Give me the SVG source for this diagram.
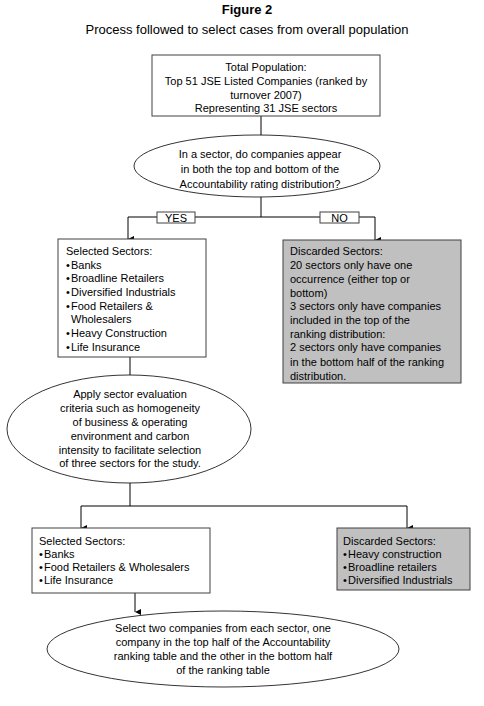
<svg xmlns="http://www.w3.org/2000/svg" width="484" height="706" viewBox="0 0 484 706">
<defs>
<marker id="ah" markerWidth="6" markerHeight="6" refX="3" refY="6" orient="auto" markerUnits="userSpaceOnUse" viewBox="0 0 6 6">
<path d="M0,0 L6,0 L3,6 z" fill="#000"/>
</marker>
</defs>
<style>
text{font-family:"Liberation Sans",Arial,sans-serif;font-size:11px;fill:#000}
.c{text-anchor:middle}
.box{fill:#fff;stroke:#404040;stroke-width:1}
.gbox{fill:#c0c0c0;stroke:#404040;stroke-width:1}
.ell{fill:#fff;stroke:#000;stroke-width:0.8}
.ln{fill:none;stroke:#000;stroke-width:1}
.arr{fill:none;stroke:#000;stroke-width:1;marker-end:url(#ah)}
</style>
<rect width="484" height="706" fill="#fff"/>
<g id="title">
<text x="247" y="14" class="c" style="font-size:13px;font-weight:bold">Figure 2</text>
<text x="247" y="34" class="c" style="font-size:13px">Process followed to select cases from overall population</text>
</g>
<g id="connectors">
<path class="ln" d="M261,116 V135"/>
<path class="ln" d="M261,197 V217 M128,217 H375"/>
<path class="arr" d="M128,217 V239"/>
<path class="arr" d="M375,217 V240"/>
<path class="ln" d="M130,357 V376"/>
<path class="ln" d="M130,483 V506 M81,506 H407"/>
<path class="arr" d="M81,506 V528"/>
<path class="arr" d="M407,506 V528"/>
<path class="arr" d="M135,593 V612"/>
</g>
<g id="yes">
<rect x="157" y="212" width="38" height="11" class="box"/>
<text x="176" y="222" class="c">YES</text>
</g>
<g id="no">
<rect x="320" y="212" width="39" height="11" class="box"/>
<text x="339.500" y="222" class="c">NO</text>
</g>
<g id="total">
<rect x="152" y="55" width="228" height="61" class="box"/>
<text x="266" y="71" class="c">Total Population:</text>
<text x="266" y="85" class="c">Top 51 JSE Listed Companies (ranked by</text>
<text x="266" y="99" class="c">turnover 2007)</text>
<text x="266" y="112" class="c">Representing 31 JSE sectors</text>
</g>
<g id="question">
<ellipse cx="257" cy="166" rx="123" ry="31" class="ell"/>
<text x="260" y="158" class="c">In a sector, do companies appear</text>
<text x="260" y="173" class="c">in both the top and bottom of the</text>
<text x="260" y="188" class="c">Accountability rating distribution?</text>
</g>
<g id="selected1">
<rect x="58" y="239" width="148" height="118" class="box"/>
<text x="66" y="255">Selected Sectors:</text>
<text x="66" y="269">•<tspan x="71">Banks</tspan></text>
<text x="66" y="282">•<tspan x="71">Broadline Retailers</tspan></text>
<text x="66" y="296">•<tspan x="71">Diversified Industrials</tspan></text>
<text x="66" y="310">•<tspan x="71">Food Retailers &amp;</tspan></text>
<text x="71" y="323">Wholesalers</text>
<text x="66" y="337">•<tspan x="71">Heavy Construction</tspan></text>
<text x="66" y="351">•<tspan x="71">Life Insurance</tspan></text>
</g>
<g id="discarded1">
<rect x="283" y="240" width="178" height="143" class="gbox"/>
<text x="290" y="255">Discarded Sectors:</text>
<text x="290" y="269">20 sectors only have one</text>
<text x="290" y="283">occurrence (either top or</text>
<text x="290" y="297">bottom)</text>
<text x="290" y="310">3 sectors only have companies</text>
<text x="290" y="324">included in the top of the</text>
<text x="290" y="338">ranking distribution:</text>
<text x="290" y="351">2 sectors only have companies</text>
<text x="290" y="366">in the bottom half of the ranking</text>
<text x="290" y="380">distribution.</text>
</g>
<g id="criteria">
<ellipse cx="129" cy="429" rx="122" ry="54" class="ell"/>
<text x="130" y="398" class="c">Apply sector evaluation</text>
<text x="130" y="412" class="c">criteria such as homogeneity</text>
<text x="130" y="426" class="c">of business &amp; operating</text>
<text x="130" y="440" class="c">environment and carbon</text>
<text x="130" y="454" class="c">intensity to facilitate selection</text>
<text x="130" y="467" class="c">of three sectors for the study.</text>
</g>
<g id="selected2">
<rect x="32" y="528" width="178" height="65" class="box"/>
<text x="39" y="545">Selected Sectors:</text>
<text x="39" y="558">•<tspan x="44">Banks</tspan></text>
<text x="39" y="571">•<tspan x="44">Food Retailers &amp; Wholesalers</tspan></text>
<text x="39" y="584">•<tspan x="44">Life Insurance</tspan></text>
</g>
<g id="discarded2">
<rect x="337" y="528" width="133" height="62" class="gbox"/>
<text x="343" y="545">Discarded Sectors:</text>
<text x="343" y="558">•<tspan x="348">Heavy construction</tspan></text>
<text x="343" y="571">•<tspan x="348">Broadline retailers</tspan></text>
<text x="343" y="584">•<tspan x="348">Diversified Industrials</tspan></text>
</g>
<g id="final">
<ellipse cx="223" cy="649" rx="176" ry="38" class="ell"/>
<text x="223" y="632" class="c">Select two companies from each sector, one</text>
<text x="223" y="646" class="c">company in the top half of the Accountability</text>
<text x="223" y="660" class="c">ranking table and the other in the bottom half</text>
<text x="223" y="674" class="c">of the ranking table</text>
</g>
</svg>
